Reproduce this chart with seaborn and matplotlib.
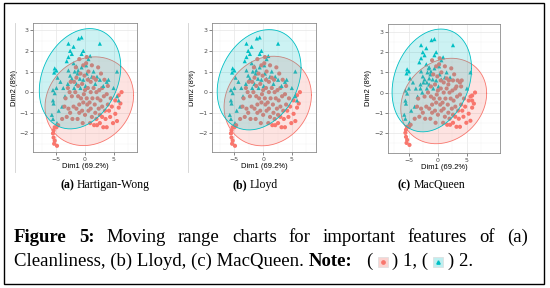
import numpy as np
import pandas as pd
import matplotlib
matplotlib.use("Agg")
import matplotlib.pyplot as plt
import seaborn as sns
from matplotlib.patches import Rectangle
from matplotlib.lines import Line2D

# Puntos (Dim1, Dim2), agrupados segun su cluster en cada metodo
# A: cluster 2 en los tres metodos
pts_A = [(-1.1, 2.6), (-0.6, 2.65), (-2.9, 2.35), (2.6, 2.35), (-2.6, 2.0), (-2.3, 1.85),
         (-2.9, 1.7), (-0.3, 2.0), (-0.6, 1.85), (0.9, 1.75), (0.6, 1.6), (-5.3, 1.15),
         (-5.0, 1.05), (-5.4, 0.95), (-3.2, 1.5), (-2.0, 1.4), (-1.5, 1.25), (-1.2, 1.05),
         (-0.6, 1.2), (-2.9, 1.05), (-2.6, 0.8), (-2.3, 0.65), (-0.9, 0.65), (-0.3, 0.6),
         (0.6, 0.65), (1.2, 0.75), (2.1, 0.75), (5.0, 0.2), (5.6, 1.0), (-5.6, 0.1),
         (-5.3, -0.05), (-5.0, 0.2), (-5.6, -0.4), (-5.5, -0.55), (-5.8, -1.1), (-5.6, -1.3),
         (-1.8, 1.0), (1.5, 1.0), (0.3, 0.9), (-1.5, 0.4), (-3.8, 0.2), (-3.5, -0.2),
         (-4.3, 0.5), (-3.0, 0.4), (-1.9, 0.2), (-0.8, 0.2), (0.1, 0.3), (-4.8, 0.7),
         (-4.0, -0.7), (-4.6, -0.9), (-4.9, -1.5), (-1.3, 0.9), (-2.0, 2.2), (0.2, 1.3)]
# B: cluster 1 en los tres metodos
pts_B = [(-5.3, -1.7), (-5.5, -1.85), (-5.6, -2.0), (-5.5, -2.2), (-5.3, -2.35), (-5.0, -1.7),
         (-4.7, -1.6), (-4.9, -2.6), (-5.4, -2.5), (2.1, -1.6), (2.6, -1.5), (3.8, -1.7),
         (3.0, -1.2), (4.4, -1.2), (5.3, -1.05), (5.9, -0.75), (6.2, -0.55), (5.6, -1.4),
         (4.9, -1.5), (3.2, -1.7), (6.4, 0.0), (5.9, -0.15), (5.3, -0.4), (-3.4, -0.3),
         (-2.9, -0.8), (-3.2, -1.2), (-2.6, -1.0), (-2.0, -0.7), (-1.5, -0.8), (-1.0, -0.6),
         (-0.5, -0.9), (0.0, -1.1), (0.6, -0.9), (1.2, -1.2), (1.8, -1.0), (2.4, -0.8),
         (3.0, -0.7), (3.5, -0.9), (4.0, -0.6), (4.5, -0.3), (-2.3, -0.2), (-1.7, 0.0),
         (-1.2, -0.2), (-0.7, -0.3), (-0.2, -0.1), (0.3, -0.3), (0.8, -0.5), (1.3, -0.3),
         (1.7, -0.6), (2.2, -0.3), (2.7, -0.4), (3.3, -0.2), (3.8, -0.1), (-1.2, 0.3),
         (-0.5, 0.4), (0.0, 0.1), (0.5, 0.2), (1.0, 0.0), (1.5, 0.2), (2.0, 0.0),
         (2.5, 0.1), (3.0, 0.2), (-0.8, 0.9), (-0.1, 0.8), (0.6, 1.0), (1.0, 0.5),
         (1.9, 0.6), (2.8, 0.9), (3.4, 0.6), (0.2, 1.4), (1.2, 1.3), (0.3, 1.7),
         (-0.3, 1.3), (2.3, 1.2), (-3.6, -0.7), (-4.0, -1.3), (-2.2, -1.3), (-1.3, -1.3),
         (-0.4, -1.5), (0.9, -1.5), (1.6, -1.6), (2.0, -1.3), (0.4, -0.6), (-0.3, -0.5),
         (1.0, -0.8), (2.6, -1.1), (3.6, -1.3), (4.2, -0.9), (4.7, -0.7), (-1.0, -1.0),
         (1.5, 0.7), (0.5, 0.6), (-1.0, 1.6), (4.0, 0.3)]
# C: cluster 2 en Hartigan-Wong / Lloyd, cluster 1 en MacQueen
pts_C = [(3.8, 0.5), (4.1, 0.6), (5.6, -0.2), (5.9, -0.4), (3.2, 0.3), (1.8, 0.4), (2.6, 0.6)]
# D: cluster 1 en Hartigan-Wong / Lloyd, cluster 2 en MacQueen
pts_D = [(-1.9, 0.5), (-2.5, 0.5), (-3.0, 0.2), (-1.5, 0.7), (-1.6, 1.2), (-2.7, 0.0)]

group_cluster = {"A": [2, 2, 2], "B": [1, 1, 1], "C": [2, 2, 1], "D": [1, 1, 2]}

panel_tags = ["(a)", "(b)", "(c)"]
panel_names = ["Hartigan-Wong", "Lloyd", "MacQueen"]
x_limits = [(-9.1, 9.1), (-8.9, 9.2), (-8.6, 10.7)]
y_limits = [(-2.9, 3.35), (-2.9, 3.35), (-3.0, 3.4)]

# Elipses: centro x, centro y, semiancho x, semiancho y, inclinacion (cos phi)
ellipse_c1 = [(0.75, -0.44, 7.75, 2.15, 0.13), (0.8, -0.43, 7.6, 2.17, 0.13), (1.0, -0.42, 7.4, 2.12, 0.18)]
ellipse_c2 = [(-0.87, 0.65, 7.13, 2.43, 0.24), (-0.7, 0.6, 7.3, 2.43, 0.24), (-1.05, 0.6, 6.85, 2.55, 0.23)]

red = "#F8766D"
cyan = "#00BFC4"

W, H = 550, 288
fig = plt.figure(figsize=(W / 100, H / 100), dpi=100)


def px_axes(l, t, r, b):
    return fig.add_axes([l / W, 1 - b / H, (r - l) / W, (b - t) / H])


boxes = [(33, 23, 137, 152), (212, 23, 316, 152), (388, 24, 500, 153)]
groups = {"A": pts_A, "B": pts_B, "C": pts_C, "D": pts_D}
tt = np.linspace(0, 2 * np.pi, 240)

for i, box in enumerate(boxes):
    rows = []
    for g, pts in groups.items():
        for (x, y) in pts:
            rows.append({"Dim1": x, "Dim2": y, "cluster": group_cluster[g][i]})
    d = pd.DataFrame(rows)
    ax = px_axes(*box)
    ax.set_facecolor("white")
    sns.scatterplot(data=d, x="Dim1", y="Dim2", hue="cluster", style="cluster",
                    palette={1: red, 2: cyan}, markers={1: "o", 2: "^"},
                    s=9, linewidth=0, legend=False, ax=ax, zorder=2)
    for (cx, cy, a, b, c), col in [(ellipse_c1[i], red), (ellipse_c2[i], cyan)]:
        sn = np.sqrt(1 - c ** 2)
        ex = cx + a * np.cos(tt)
        ey = cy + b * (c * np.cos(tt) + sn * np.sin(tt))
        ax.fill(ex, ey, facecolor=col, alpha=0.2, lw=0, zorder=3)
        ax.plot(ex, ey, color=col, lw=0.6, zorder=3)
    ax.set_xlim(*x_limits[i])
    ax.set_ylim(*y_limits[i])
    ax.set_xticks([-5, 0, 5])
    ax.set_xticks([-7.5, -2.5, 2.5, 7.5], minor=True)
    ax.set_yticks([-2, -1, 0, 1, 2, 3])
    ax.set_yticks([-2.5, -1.5, -0.5, 0.5, 1.5, 2.5], minor=True)
    ax.grid(which="major", color="#E6E6E6", lw=0.5, zorder=0)
    ax.grid(which="minor", color="#F2F2F2", lw=0.3, zorder=0)
    ax.set_axisbelow(True)
    ax.tick_params(which="major", length=2, width=0.5, color="#555555",
                   labelsize=4.5, labelcolor="#4D4D4D", pad=1.5)
    ax.tick_params(which="minor", length=0)
    for sp in ax.spines.values():
        sp.set_color("#8C8C8C")
        sp.set_linewidth(0.6)
    ax.set_xlabel("Dim1 (69.2%)", fontsize=5.5, labelpad=1, family="Liberation Sans")
    ax.set_ylabel("Dim2 (8%)", fontsize=5.5, labelpad=1, family="Liberation Sans")

# lineas grises de borde de las subfiguras
for xl in [15, 188]:
    fig.add_artist(Line2D([xl / W, xl / W], [1 - 23 / H, 1 - 172 / H], color="#D0D0D0", lw=0.6))

# marco exterior
fig.add_artist(Rectangle((4 / W, 1 - 284 / H), 540 / W, 281 / H, transform=fig.transFigure,
                         fill=False, edgecolor="black", lw=1.0))

r = fig.canvas.get_renderer()
serif = "Liberation Serif"


def width_of(s, **kw):
    t = fig.text(0, 0, s, **kw)
    w = t.get_window_extent(renderer=r).width
    t.remove()
    return w


def put(x, y, s, **kw):
    t = fig.text(x / W, 1 - y / H, s, va="baseline", ha="left", **kw)
    return x + t.get_window_extent(renderer=r).width


# subtitulos
centers = [105, 255, 431]
for i in range(3):
    kb = dict(family=serif, size=8.5, weight="bold")
    kn = dict(family=serif, size=8.5)
    sp = width_of("a a", **kn) - width_of("aa", **kn)
    wt = width_of(panel_tags[i], **kb) + sp + width_of(panel_names[i], **kn)
    x0 = centers[i] - wt / 2
    x1 = put(x0, 188, panel_tags[i], **kb)
    put(x1 + sp, 188, panel_names[i], **kn)

# leyenda de la figura, primera linea justificada
fs = 13.5
line1 = [("Figure", "bold"), ("5:", "bold"), ("Moving", "normal"), ("range", "normal"),
         ("charts", "normal"), ("for", "normal"), ("important", "normal"), ("features", "normal"),
         ("of", "normal"), ("(a)", "normal")]
widths = [width_of(w, family=serif, size=fs, weight=b) for w, b in line1]
gap = (528 - 14 - sum(widths)) / (len(line1) - 1)
x = 14
for (w, b), wd in zip(line1, widths):
    put(x, 242, w, family=serif, size=fs, weight=b)
    x += wd + gap

kn = dict(family=serif, size=fs)
sp = width_of("a a", **kn) - width_of("aa", **kn)
y2 = 266
x = put(14, y2, "Cleanliness, (b) Lloyd, (c) MacQueen.", **kn) + sp
x = put(x, y2, "Note:", family=serif, size=fs, weight="bold") + 3 * sp
x = put(x, y2, "(", **kn) + sp


def icon(x, fc, mk, mc):
    fig.add_artist(Rectangle((x / W, 1 - (y2 + 1) / H), 10 / W, 10 / H, transform=fig.transFigure,
                             facecolor=fc, edgecolor="#DDDDDD", lw=0.5))
    fig.add_artist(Line2D([(x + 5) / W], [1 - (y2 - 4) / H], marker=mk, color=mc,
                          markersize=2.4, lw=0, transform=fig.transFigure))
    return x + 10


x = icon(x, "#FBD3D0", "o", red) + sp
x = put(x, y2, ") 1, (", **kn) + sp
x = icon(x, "#BFEFF0", "^", cyan) + sp
put(x, y2, ") 2.", **kn)

fig.savefig("out.png", dpi=100)
